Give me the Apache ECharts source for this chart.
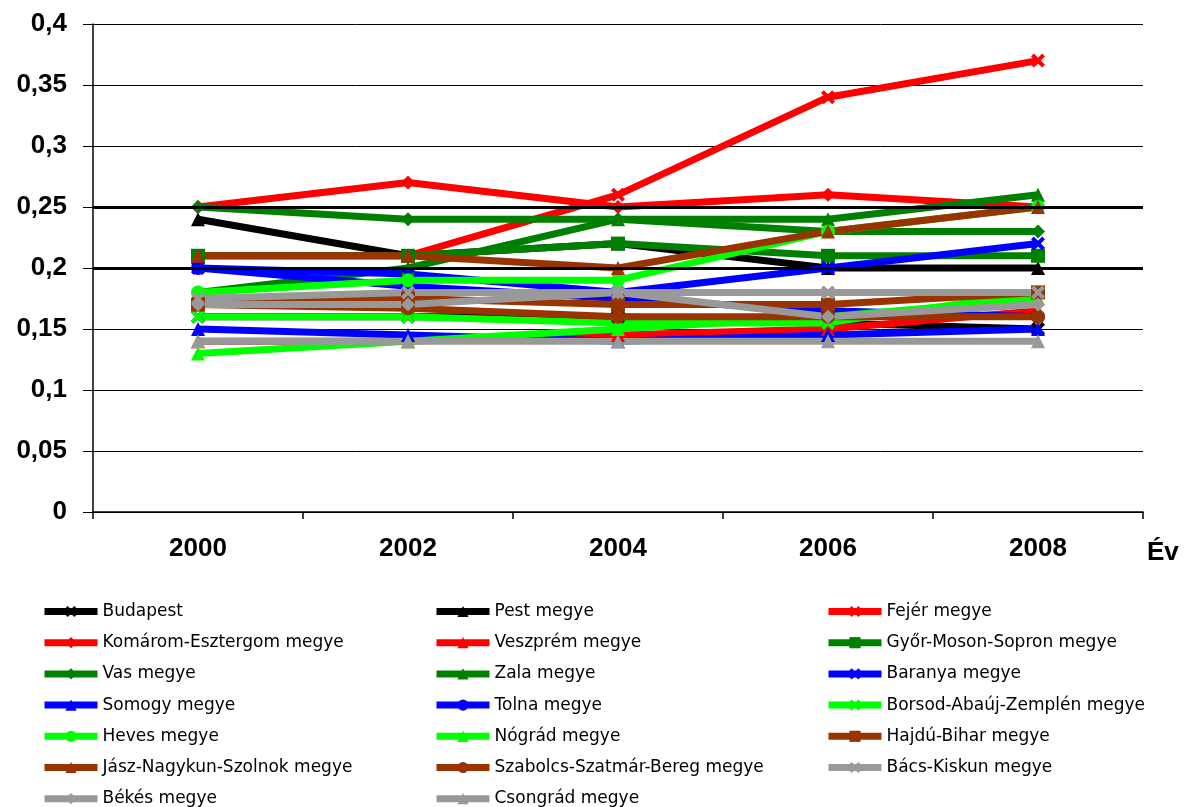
<!DOCTYPE html>
<html>
<head>
<meta charset="utf-8">
<script src="https://cdn.jsdelivr.net/npm/echarts@6/dist/echarts.min.js"></script>
<style>html,body{margin:0;padding:0;background:#fff}#c{width:1184px;height:807px}</style>
</head>
<body>
<div id="c"></div>
<script>
// categories
const years = ['2000', '2002', '2004', '2006', '2008'];
// series values
const budapest   = [0.16, 0.16, 0.16, 0.155, 0.15];
const pest       = [0.24, 0.21, 0.22, 0.20, 0.20];
const fejer      = [0.21, 0.21, 0.26, 0.34, 0.37];
const komarom    = [0.25, 0.27, 0.25, 0.26, 0.25];
const veszprem   = [0.14, 0.14, 0.145, 0.15, 0.165];
const gyor       = [0.21, 0.21, 0.22, 0.21, 0.21];
const vas        = [0.25, 0.24, 0.24, 0.23, 0.23];
const zala       = [0.18, 0.20, 0.24, 0.24, 0.26];
const baranya    = [0.20, 0.195, 0.18, 0.20, 0.22];
const somogy     = [0.15, 0.145, 0.14, 0.145, 0.15];
const tolna      = [0.20, 0.185, 0.175, 0.165, 0.16];
const borsod     = [0.16, 0.16, 0.155, 0.155, 0.18];
const heves      = [0.18, 0.19, 0.19, 0.23, 0.25];
const nograd     = [0.13, 0.14, 0.15, 0.16, 0.175];
const hajdu      = [0.17, 0.175, 0.17, 0.17, 0.18];
const jasz       = [0.21, 0.21, 0.20, 0.23, 0.25];
const szabolcs   = [0.17, 0.167, 0.16, 0.16, 0.16];
const bacs       = [0.175, 0.18, 0.18, 0.18, 0.18];
const bekes      = [0.17, 0.17, 0.18, 0.16, 0.17];
const csongrad   = [0.14, 0.14, 0.14, 0.14, 0.14];
// y tick labels
const yTicks = ['0', '0,05', '0,1', '0,15', '0,2', '0,25', '0,3', '0,35', '0,4'];
const refLines = [0.2, 0.25];
const xAxisTitle = 'Év';

const BLACK = '#000000', RED = '#FF0000', GREEN = '#008000', BLUE = '#0000FF',
      LIME = '#00FF00', BROWN = '#993300', GRAY = '#999999';
const XS = 'path://M0,2L2,0L5,3L8,0L10,2L7,5L10,8L8,10L5,7L2,10L0,8L3,5Z';

const defs = [
  ['Budapest', budapest, BLACK, XS],
  ['Pest megye', pest, BLACK, 'triangle'],
  ['Fejér megye', fejer, RED, XS],
  ['Komárom-Esztergom megye', komarom, RED, 'diamond'],
  ['Veszprém megye', veszprem, RED, 'triangle'],
  ['Győr-Moson-Sopron megye', gyor, GREEN, 'rect'],
  ['Vas megye', vas, GREEN, 'diamond'],
  ['Zala megye', zala, GREEN, 'triangle'],
  ['Baranya megye', baranya, BLUE, XS],
  ['Somogy megye', somogy, BLUE, 'triangle'],
  ['Tolna megye', tolna, BLUE, 'circle'],
  ['Borsod-Abaúj-Zemplén megye', borsod, LIME, XS],
  ['Heves megye', heves, LIME, 'circle'],
  ['Nógrád megye', nograd, LIME, 'triangle'],
  ['Hajdú-Bihar megye', hajdu, BROWN, 'rect'],
  ['Jász-Nagykun-Szolnok megye', jasz, BROWN, 'triangle'],
  ['Szabolcs-Szatmár-Bereg megye', szabolcs, BROWN, 'circle'],
  ['Bács-Kiskun megye', bacs, GRAY, XS],
  ['Békés megye', bekes, GRAY, 'diamond'],
  ['Csongrád megye', csongrad, GRAY, 'triangle']
];
const names = defs.map(d => d[0]);

const series = defs.map((d, i) => ({
  name: d[0], type: 'line', data: d[1],
  symbol: d[3], symbolSize: 14, showSymbol: true,
  lineStyle: { color: d[2], width: 7 },
  itemStyle: { color: d[2] },
  animation: false,
  markLine: i === 0 ? {
    silent: true, symbol: 'none', label: { show: false },
    lineStyle: { color: '#000', width: 3, type: 'solid' },
    data: refLines.map(v => ({ yAxis: v }))
  } : undefined,
  z: 3
}));

const legendText = { fontFamily: 'DejaVu Sans', fontSize: 17, color: '#000' };
function legendCol(left, idxs) {
  return {
    orient: 'vertical', left: left, top: 603, padding: 0, height: 240,
    itemWidth: 53, itemHeight: 14, itemGap: 14.2,
    lineStyle: { width: 7 },
    textStyle: legendText,
    data: idxs.map(i => names[i])
  };
}

const axisFont = { fontFamily: 'Liberation Sans', fontWeight: 'bold', fontSize: 26, color: '#000' };

const chart = echarts.init(document.getElementById('c'), null, { renderer: 'canvas' });
chart.setOption({
  backgroundColor: '#fff',
  animation: false,
  grid: { left: 93, right: 41, top: 24, bottom: 295, containLabel: false },
  legend: [
    legendCol(41, [0, 3, 6, 9, 12, 15, 18]),
    legendCol(433, [1, 4, 7, 10, 13, 16, 19]),
    legendCol(825, [2, 5, 8, 11, 14, 17])
  ],
  graphic: [{
    type: 'text', left: 1147, top: 540,
    style: Object.assign({ text: xAxisTitle }, { font: 'bold 26px "Liberation Sans"', fill: '#000' })
  }],
  xAxis: {
    type: 'category', data: years, boundaryGap: true,
    axisLine: { lineStyle: { color: '#000', width: 1.5 } },
    axisTick: { show: true, length: 7, lineStyle: { color: '#000', width: 1.5 } },
    axisLabel: Object.assign({ margin: 24 }, axisFont)
  },
  yAxis: {
    type: 'value', min: 0, max: 0.4, interval: 0.05,
    axisLine: { show: true, lineStyle: { color: '#000', width: 1.5 } },
    axisTick: { show: true, length: 10, lineStyle: { color: '#000' } },
    splitLine: { show: true, lineStyle: { color: '#000', width: 1 } },
    axisLabel: Object.assign({
      margin: 26,
      formatter: v => yTicks[Math.round(v / 0.05)]
    }, axisFont)
  },
  series: series
});
</script>
</body>
</html>
